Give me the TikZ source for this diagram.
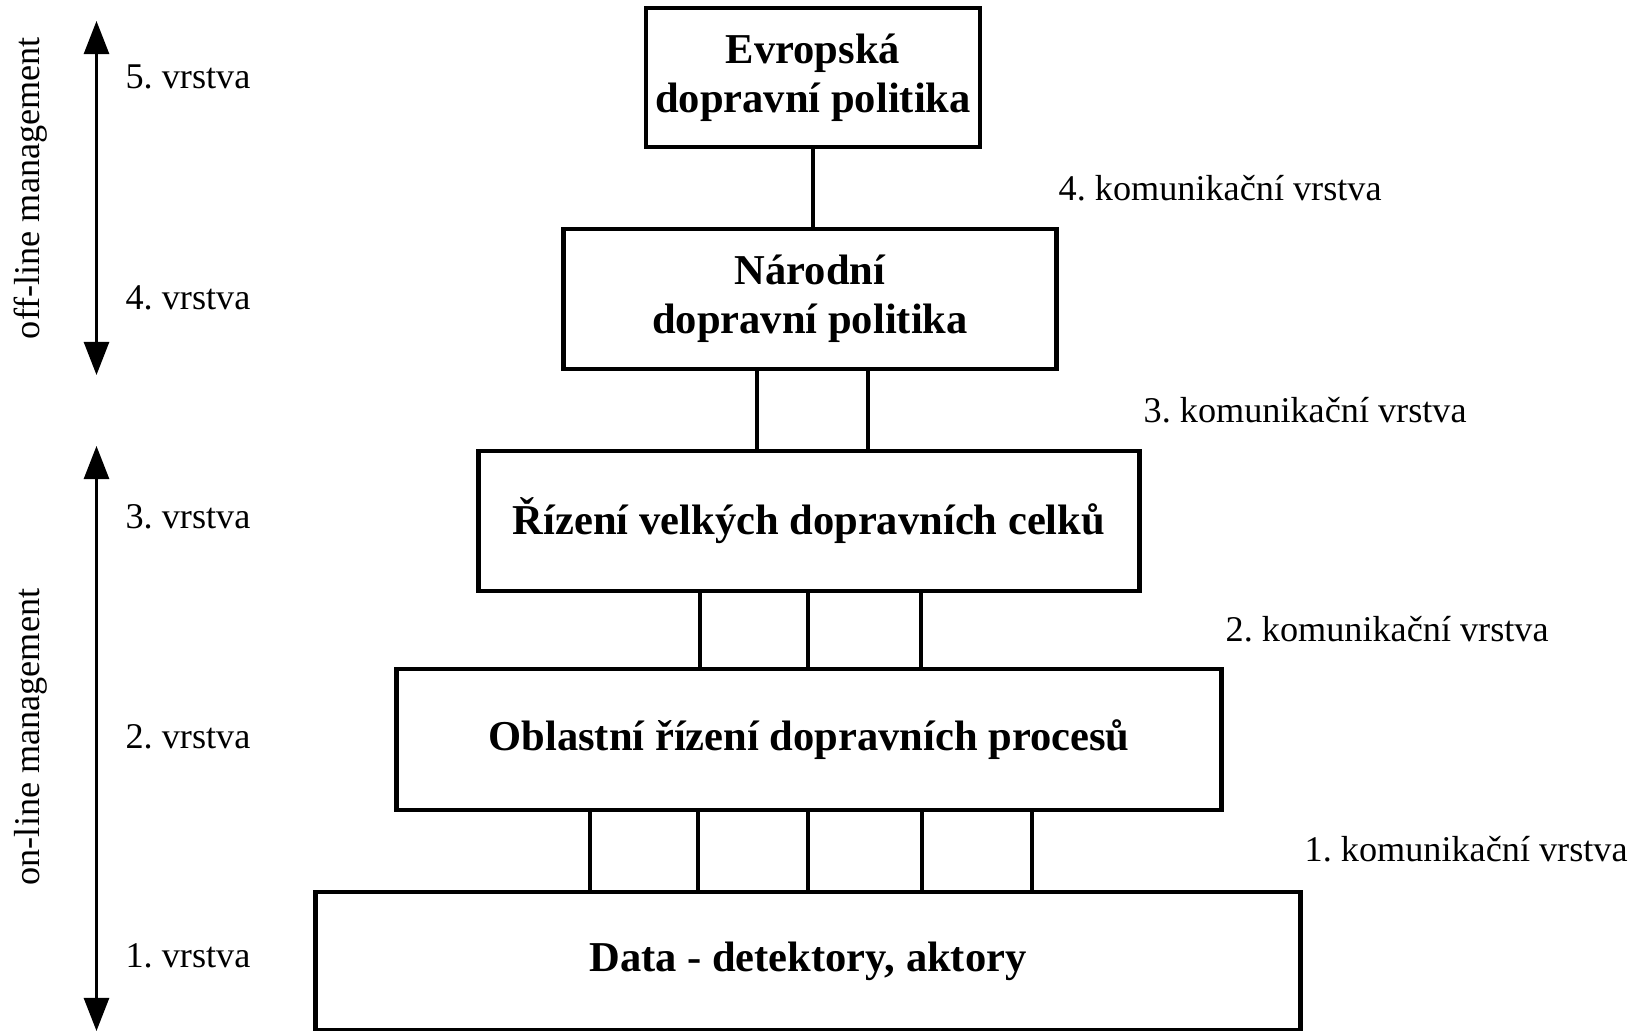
\documentclass[tikz,border=0pt]{standalone}
\usepackage{fontspec}
\setmainfont{Liberation Serif}
\frenchspacing
\usetikzlibrary{arrows.meta,positioning,calc}
\tikzset{
    lyBox/.style={
        rectangle,
        draw,
        line width=1.35pt,
        inner sep=0pt,
        align=center,
        font=\fontsize{12.1}{13.9}\selectfont\bfseries
    },
    lyLink/.style={line width=1.2pt},
    lyLabel/.style={font=\fontsize{10.3}{12}\selectfont, inner sep=0pt},
    lyKom/.style={lyLabel, anchor=west},
    % Arrows
    lyArrow/.style={
        {Triangle[width=0.25cm,length=0.33cm]}-{Triangle[width=0.25cm,length=0.33cm]},
        line width=0.75pt
    }
}

\begin{document}
\begin{tikzpicture}[x=0.01cm, y=-0.01cm]
    \useasboundingbox (0,0) rectangle (1644,1031);
    % layers
    \node[lyBox, minimum width=3.34cm, minimum height=1.39cm] (b5) at (813,77.5) {Evropská\\dopravní politika};
    \node[lyBox, minimum width=4.92cm, minimum height=1.40cm] (b4) at (810,299) {Národní\\dopravní politika};
    \node[lyBox, minimum width=6.60cm, minimum height=1.40cm] (b3) at (809,521) {Řízení velkých dopravních celků};
    \node[lyBox, minimum width=8.24cm, minimum height=1.41cm] (b2) at (809,739.5) {Oblastní řízení dopravních procesů};
    \node[lyBox, minimum width=9.84cm, minimum height=1.38cm] (b1) at (808,961) {Data - detektory, aktory};
    % links between layers
    \draw[lyLink] (b5.south) -- (b5.south |- b4.north);
    \foreach \x in {757,868}
        \draw[lyLink] (b4.south -| \x,0) -- (b3.north -| \x,0);
    \foreach \x in {700,808,921}
        \draw[lyLink] (b3.south -| \x,0) -- (b2.north -| \x,0);
    \foreach \x in {590,698,808,922,1032}
        \draw[lyLink] (b2.south -| \x,0) -- (b1.north -| \x,0);
    \foreach \n/\y in {5/77,4/298,3/517,2/737,1/956} {
        \node[lyLabel] (v\n) at (188,\y) {\n. vrstva};
    }
    \foreach \n/\x/\y in {4/1058/188,3/1143/410,2/1225/629,1/1304/849} {
        \node[lyKom] (k\n) at (\x,\y) {\n. komunikační vrstva};
    }
    \node[lyLabel, rotate=90] (off) at (31,188) {off-line management};
    \node[lyLabel, rotate=90] (on) at (31,737) {on-line management};
    \coordinate (offTop) at (96.5,21);
    \coordinate (offBot) at (96.5,375);
    \coordinate (onTop) at (96.5,446);
    \coordinate (onBot) at (96.5,1031);
    \draw[lyArrow] (offTop) -- (offBot);
    \draw[lyArrow] (onTop) -- (onBot);
\end{tikzpicture}
\end{document}
